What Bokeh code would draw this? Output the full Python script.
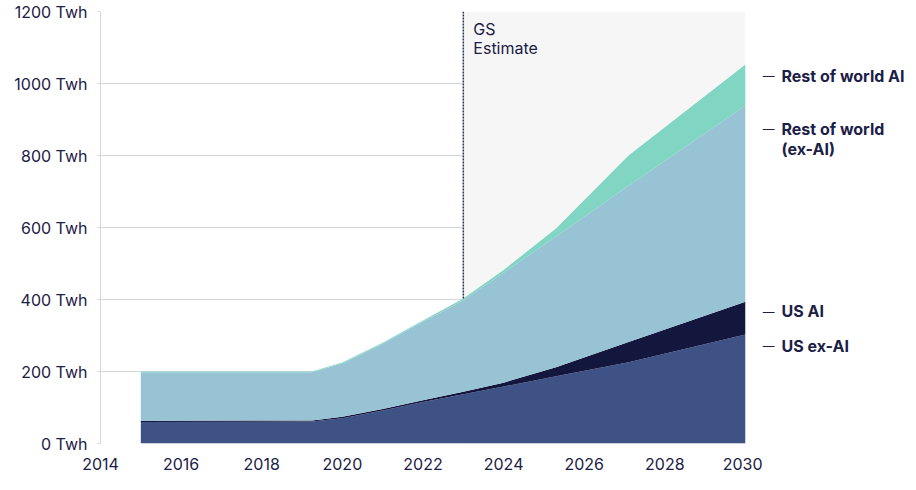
from bokeh.plotting import figure
from bokeh.layouts import row
from bokeh.models import ColumnDataSource, Range1d, BoxAnnotation, Label, FixedTicker, CustomJSTickFormatter
from bokeh.core.properties import value
from bokeh.embed import file_html
from bokeh.resources import INLINE

# ---- data ----
years = [2015, 2019.25, 2020, 2021, 2022, 2023, 2024, 2025.3, 2027.1, 2030]
us_ex_ai = [60, 61, 70, 92, 115, 137, 158, 187, 226, 303]
us_ai = [3, 3, 4, 4, 5, 7, 11, 25, 56, 91]
row_ex_ai = [135, 134, 148, 181, 218, 254, 305, 363, 434, 545]
row_ai = [2, 2, 3, 3, 4, 5, 8, 22, 84, 114]
series_names = ["US ex-AI", "US AI", "Rest of world (ex-AI)", "Rest of world AI"]
estimate_start = 2023
x_ticks = [2014, 2016, 2018, 2020, 2022, 2024, 2026, 2028, 2030]
y_ticks = [0, 200, 400, 600, 800, 1000, 1200]

# ---- style ----
colors = ["#3e5285", "#13163d", "#97c3d5", "#80d6c3"]
TEXT = "#1c2046"
FONT = "Inter"
GRID = "#d6d6db"
H = 482
TOP, BOTTOM = 11, 39
RB = 17

src = ColumnDataSource(dict(x=years, us_ex_ai=us_ex_ai, us_ai=us_ai,
                            row_ex_ai=row_ex_ai, row_ai=row_ai))
keys = ["us_ex_ai", "us_ai", "row_ex_ai", "row_ai"]

p = figure(width=745 + RB, height=H, output_backend="svg", toolbar_location=None,
           x_range=Range1d(2014, 2030), y_range=Range1d(0, 1200),
           min_border_left=100, min_border_right=RB, min_border_top=TOP, min_border_bottom=BOTTOM)
p.outline_line_color = None
p.background_fill_color = "white"

# estimate shading
p.add_layout(BoxAnnotation(left=estimate_start, right=2030, fill_color="#f6f6f6",
                           fill_alpha=1.0, line_color=None, level="underlay"))

p.varea_stack(stackers=keys, x="x", color=colors, source=src)

# dotted estimate line
totals = [a + b + c + d for a, b, c, d in zip(us_ex_ai, us_ai, row_ex_ai, row_ai)]
total_at_est = totals[years.index(estimate_start)]
p.segment(x0=[estimate_start], y0=[total_at_est], x1=[estimate_start], y1=[1200],
          line_color="#2a2f5a", line_width=1.5, line_dash="2 1")

p.add_layout(Label(x=estimate_start, y=1200, x_offset=10, y_offset=-27, text="GS",
                   text_font=FONT, text_font_size="16px", text_color=TEXT))
p.add_layout(Label(x=estimate_start, y=1200, x_offset=10, y_offset=-46, text="Estimate",
                   text_font=FONT, text_font_size="16px", text_color=TEXT))

# axes
p.xaxis.ticker = FixedTicker(ticks=x_ticks)
p.yaxis.ticker = FixedTicker(ticks=y_ticks)
p.yaxis.formatter = CustomJSTickFormatter(code="return tick + ' Twh';")
for ax in (p.xaxis[0], p.yaxis[0]):
    ax.major_label_text_font = FONT
    ax.major_label_text_font_size = "16px"
    ax.major_label_text_color = TEXT
    ax.minor_tick_line_color = None
p.yaxis.axis_line_color = GRID
p.yaxis.major_tick_line_color = GRID
p.yaxis.major_tick_out = 3
p.yaxis.major_tick_in = 0
p.yaxis.major_label_standoff = 10
p.xaxis.axis_line_color = None
p.xaxis.major_tick_line_color = None
p.xaxis.major_label_standoff = 8
p.xgrid.grid_line_color = None
p.ygrid.grid_line_color = GRID
p.ygrid.grid_line_width = 1.2

# right-hand label panel sharing the y scale
QW = 908 - (745 + RB)
q = figure(width=QW, height=H, output_backend="svg", toolbar_location=None,
           x_range=Range1d(0, QW), y_range=p.y_range,
           min_border_left=0, min_border_right=0, min_border_top=TOP, min_border_bottom=BOTTOM)
q.axis.visible = False
q.grid.grid_line_color = None
q.outline_line_color = None

label_y = [272, 367, 875, 1022]          # anchor heights (data units) for the labels
label_lines = [["US ex-AI"], ["US AI"], ["Rest of world", "(ex-AI)"], ["Rest of world AI"]]
q.text(x=[0] * 4, y=label_y, text=["\u2014"] * 4, text_font=value(FONT),
       text_font_size="12px", text_color=TEXT, text_baseline="middle")
tx, ty, tt = [], [], []
for ypos, lines in zip(label_y, label_lines):
    for i, ln in enumerate(lines):
        tx.append(781 - (745 + RB))
        ty.append(ypos - i * 20 / 0.36)
        tt.append(ln)
q.text(x=tx, y=ty, text=tt, text_font=value(FONT), text_font_size="16px",
       text_font_style="bold", text_color=TEXT, text_baseline="middle")

layout = row(p, q, spacing=0)
open("out.html", "w").write(file_html(layout, INLINE))
